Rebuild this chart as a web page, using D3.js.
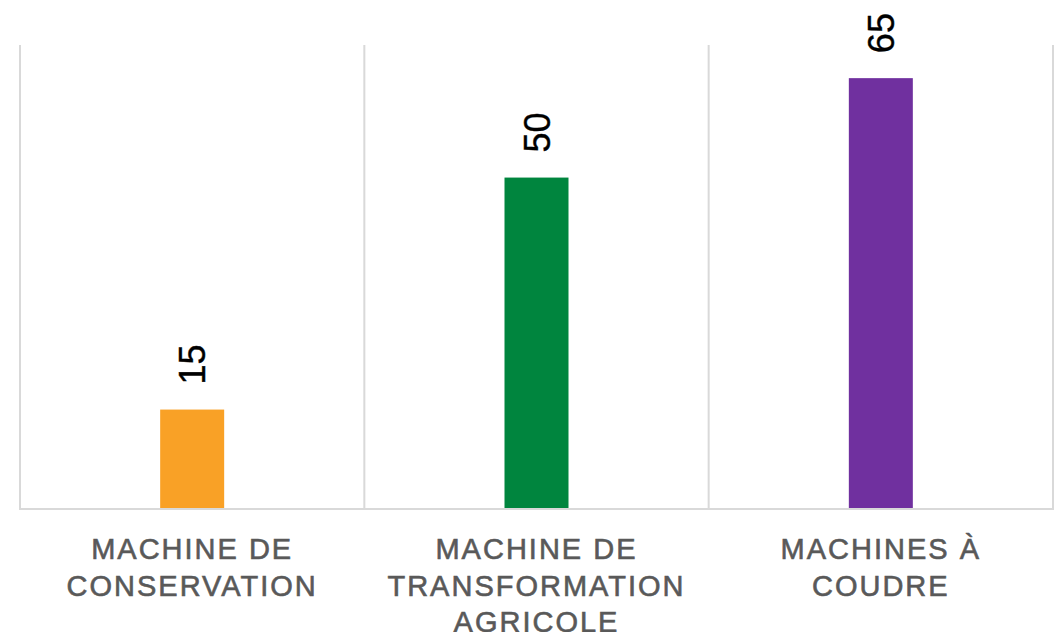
<!DOCTYPE html>
<meta charset="utf-8">
<html>
  <head>
    <style>
      body { margin: 0; background: #fff; }
      text.cat {
          font-family: "Liberation Sans", Arial, sans-serif;
          font-size: 29px;
          letter-spacing: 2px;
          fill: #595959;
          stroke: #595959;
          stroke-width: 0.6px;
      }
      text.val {
          font-family: "Liberation Sans", Arial, sans-serif;
          font-size: 36px;
          fill: #000;
          stroke: #000;
          stroke-width: 0.4px;
      }
    </style>
    <script src="https://d3js.org/d3.v7.min.js"></script>
  </head>
  <body>
    <script>

      var categories = [
          ["MACHINE DE", "CONSERVATION"],
          ["MACHINE DE", "TRANSFORMATION", "AGRICOLE"],
          ["MACHINES À", "COUDRE"]
      ];
      var values = [15, 50, 65];
      var colors = ["#F9A126", "#00853E", "#70309F"];

      var width = 1054,
          height = 632;

      var plotL = 20, plotR = 1053, plotT = 45, plotB = 509;

      var svg = d3.select('body').append('svg')
          .attr('width', width)
          .attr('height', height);

      var x = d3.scaleBand()
          .domain(d3.range(values.length))
          .range([plotL, plotR])
          .paddingInner(0)
          .paddingOuter(0);

      var y = d3.scaleLinear()
          .domain([0, 70])
          .range([plotB, plotT]);

      // category separators
      svg.selectAll(".sep")
          .data(d3.range(values.length + 1))
          .enter().append("line")
          .attr("x1", function(d) { return d < values.length ? x(d) : plotR; })
          .attr("x2", function(d) { return d < values.length ? x(d) : plotR; })
          .attr("y1", y(70))
          .attr("y2", plotB)
          .attr("stroke", "#d9d9d9")
          .attr("stroke-width", 2);

      var barW = 64;

      svg.selectAll(".bar")
          .data(values)
          .enter().append("rect")
          .attr("x", function(d, i) { return x(i) + x.bandwidth() / 2 - barW / 2; })
          .attr("y", function(d) { return y(d); })
          .attr("width", barW)
          .attr("height", function(d) { return plotB - y(d); })
          .attr("fill", function(d, i) { return colors[i]; });

      // baseline
      svg.append("line")
          .attr("x1", plotL - 1)
          .attr("x2", plotR + 1)
          .attr("y1", plotB)
          .attr("y2", plotB)
          .attr("stroke", "#d9d9d9")
          .attr("stroke-width", 2);

      svg.selectAll(".val")
          .data(values)
          .enter().append("text")
          .attr("class", "val")
          .attr("transform", function(d, i) {
              return "translate(" + (x(i) + x.bandwidth() / 2 + 13) + "," + (y(d) - 25) + ")rotate(-90)";
          })
          .text(function(d) { return d; });

      var cats = svg.selectAll(".catg")
          .data(categories)
          .enter().append("text")
          .attr("class", "cat")
          .attr("text-anchor", "middle");

      cats.selectAll("tspan")
          .data(function(d, i) { return d.map(function(s) { return {s: s, i: i}; }); })
          .enter().append("tspan")
          .attr("x", function(d) { return x(d.i) + x.bandwidth() / 2; })
          .attr("y", function(d, j) { return 559 + j * 36.5; })
          .text(function(d) { return d.s; });

    </script>
  </body>
</html>
